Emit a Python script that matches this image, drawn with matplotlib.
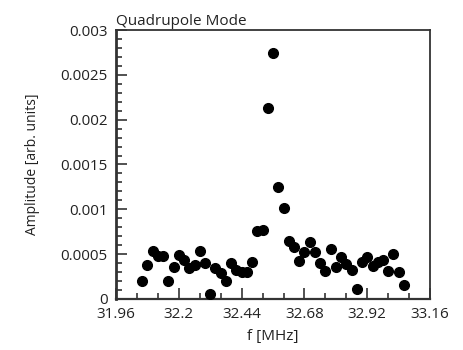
import numpy as np
import matplotlib.pyplot as plt
from matplotlib.ticker import FixedLocator, MultipleLocator, FuncFormatter

plt.rcParams['font.family'] = ['Open Sans', 'DejaVu Sans']

freq = [32.06, 32.08, 32.10, 32.12, 32.14, 32.16, 32.18, 32.20, 32.22, 32.24,
        32.26, 32.28, 32.30, 32.32, 32.34, 32.36, 32.38, 32.40, 32.42, 32.44,
        32.46, 32.48, 32.50, 32.52, 32.54, 32.56, 32.58, 32.60, 32.62, 32.64,
        32.66, 32.68, 32.70, 32.72, 32.74, 32.76, 32.78, 32.80, 32.82, 32.84,
        32.86, 32.88, 32.90, 32.92, 32.94, 32.96, 32.98, 33.00, 33.02, 33.04,
        33.06]
amp = [0.00020, 0.00038, 0.00053, 0.00048, 0.00048, 0.00020, 0.00036, 0.00049,
       0.000435, 0.00035, 0.00038, 0.000535, 0.000405, 0.00005, 0.00035, 0.00029,
       0.00020, 0.00040, 0.00032, 0.000305, 0.000305, 0.00041, 0.00076, 0.00077,
       0.00213, 0.00274, 0.00125, 0.00101, 0.00065, 0.00058, 0.00042, 0.00052,
       0.00063, 0.00052, 0.00040, 0.00031, 0.00056, 0.00036, 0.00047, 0.00039,
       0.00032, 0.00011, 0.00041, 0.00047, 0.00037, 0.00041, 0.000435, 0.00031,
       0.00050, 0.00030, 0.00015]

x_ticks = [31.96, 32.2, 32.44, 32.68, 32.92, 33.16]
x_minor = [32.04, 32.12, 32.28, 32.36, 32.52, 32.60, 32.76, 32.84, 33.00, 33.08]

txt = '#222222'

fig = plt.figure(figsize=(4.64, 3.5), dpi=100)
ax = fig.add_axes([0.25, 0.146, 0.677, 0.768])

ax.plot(freq, amp, 'o', color='black', markersize=7, zorder=3)

ax.set_xlim(31.96, 33.16)
ax.set_ylim(0, 0.003)
ax.xaxis.set_major_locator(FixedLocator(x_ticks))
ax.xaxis.set_minor_locator(FixedLocator(x_minor))
ax.yaxis.set_major_locator(MultipleLocator(0.0005))
ax.yaxis.set_minor_locator(MultipleLocator(0.0001))
ax.xaxis.set_major_formatter(FuncFormatter(lambda v, p: f"{round(v, 2):g}"))
ax.yaxis.set_major_formatter(FuncFormatter(lambda v, p: f"{round(v, 5):g}"))

ax.tick_params(which='both', direction='in', colors='#333333', labelcolor=txt,
               labelsize=11, width=1.2, top=False, right=False)
ax.tick_params(which='major', length=8, pad=6)
ax.tick_params(which='minor', length=4.5)

for s in ax.spines.values():
    s.set_linewidth(1.3)
    s.set_color('#333333')
ax.spines['left'].set_linewidth(2.0)
ax.spines['bottom'].set_linewidth(1.6)

ax.set_xlabel("f [MHz]", fontsize=11, color=txt, labelpad=5)
ax.set_ylabel("Amplitude [arb. units]", fontsize=10, color=txt, labelpad=15)
ax.set_title("Quadrupole Mode", loc='left', fontsize=11, color=txt, pad=4)

fig.savefig("out.png", dpi=100)
